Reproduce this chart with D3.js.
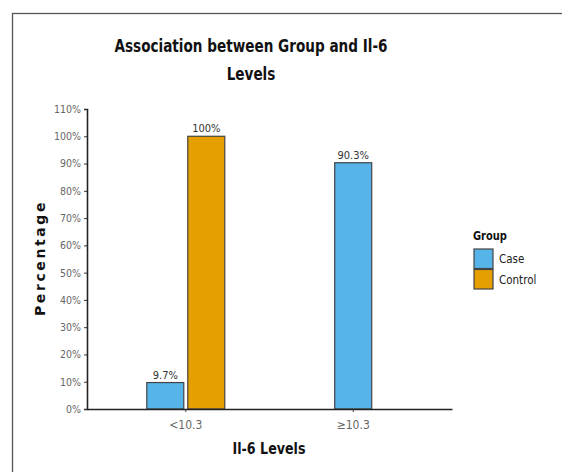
<!DOCTYPE html>
<html>
<head>
  <meta charset="utf-8">
  <script src="https://d3js.org/d3.v7.min.js"></script>
  <style>
    body { margin: 0; background: #fff; }
    text { font-family: "DejaVu Sans", sans-serif; font-stretch: condensed; }
  </style>
</head>
<body>
  <script>
    // Data
    const levels = ["<10.3", "\u226510.3"];
    const groups = ["Case", "Control"];
    const caseValues = [0.097, 0.903];
    const controlValues = [1.0, null];
    const valueLabels = [["9.7%", "100%"], ["90.3%", null]];
    const yTicks = [0, 0.1, 0.2, 0.3, 0.4, 0.5, 0.6, 0.7, 0.8, 0.9, 1.0, 1.1];
    const colors = ["#56B4E9", "#E69F00"];

    const width = 562, height = 472;
    const margin = { top: 109, right: 110, bottom: 63, left: 87 };

    const svg = d3.select("body").append("svg")
      .attr("width", width)
      .attr("height", height);

    // outer panel border
    svg.append("rect")
      .attr("x", 12.5).attr("y", 13.5)
      .attr("width", width).attr("height", height)
      .attr("fill", "none")
      .attr("stroke", "#555")
      .attr("stroke-width", 1.3);

    const x = d3.scaleBand()
      .domain(levels)
      .range([margin.left, width - margin.right])
      .paddingOuter(0.09)
      .paddingInner(0);

    const y = d3.scaleLinear()
      .domain([0, 1.1])
      .range([height - margin.bottom, margin.top]);

    // build rows: in a level with one group the bar is centered
    const barW = 37, gap = 4;
    const rows = [];
    levels.forEach((lv, i) => {
      const vals = [caseValues[i], controlValues[i]];
      const present = groups.map((g, j) => ({ g, j, v: vals[j] })).filter(d => d.v != null);
      const n = present.length;
      const cx = x(lv) + x.bandwidth() / 2;
      present.forEach((d, k) => {
        const offset = (k - (n - 1) / 2) * (barW + gap);
        rows.push({ level: lv, group: d.g, gi: d.j, value: d.v,
          label: valueLabels[i][d.j], x0: cx + offset - barW / 2 });
      });
    });

    svg.selectAll(".bar")
      .data(rows)
      .join("rect")
      .attr("class", "bar")
      .attr("x", d => d.x0)
      .attr("y", d => y(d.value))
      .attr("width", barW)
      .attr("height", d => y(0) - y(d.value))
      .attr("fill", d => colors[d.gi])
      .attr("stroke", "#444")
      .attr("stroke-width", 1.2);

    svg.selectAll(".vlabel")
      .data(rows)
      .join("text")
      .attr("class", "vlabel")
      .attr("x", d => d.x0 + barW / 2)
      .attr("y", d => y(d.value) - 4)
      .attr("text-anchor", "middle")
      .attr("font-size", 11)
      .attr("fill", "#333")
      .text(d => d.label);

    // y axis
    const yAxis = svg.append("g")
      .attr("transform", `translate(${margin.left},0)`)
      .call(d3.axisLeft(y).tickValues(yTicks).tickFormat(d3.format(".0%")).tickSize(3).tickPadding(3));
    yAxis.attr("font-family", null);
    yAxis.select(".domain").attr("stroke", "#222").attr("stroke-width", 1.6);
    yAxis.selectAll(".tick line").attr("stroke", "#333");
    yAxis.selectAll("text").attr("font-size", 10.5).attr("fill", "#666");

    // x axis
    const xAxis = svg.append("g")
      .attr("transform", `translate(0,${y(0)})`)
      .call(d3.axisBottom(x).tickSize(3).tickPadding(8).tickSizeOuter(0));
    xAxis.attr("font-family", null);
    xAxis.select(".domain").attr("stroke", "#222").attr("stroke-width", 1.6);
    xAxis.selectAll(".tick line").attr("stroke", "#333");
    xAxis.selectAll("text").attr("font-size", 12).attr("fill", "#666");

    // title (squeezed horizontally like the source)
    const title = svg.append("g")
      .attr("transform", "translate(251,0) scale(0.84,1)")
      .append("text")
      .attr("text-anchor", "middle")
      .attr("font-size", 18)
      .attr("font-weight", "bold")
      .attr("fill", "#111");
    title.append("tspan").attr("x", 0).attr("y", 52).text("Association between Group and Il-6");
    title.append("tspan").attr("x", 0).attr("y", 80).text("Levels");

    // axis titles
    svg.append("text")
      .attr("transform", "translate(269,454) scale(0.88,1)")
      .attr("text-anchor", "middle")
      .attr("font-size", 16)
      .attr("font-weight", "bold")
      .attr("fill", "#111")
      .text("Il-6 Levels");

    svg.append("text")
      .attr("transform", "translate(45,258) rotate(-90)")
      .attr("text-anchor", "middle")
      .attr("font-size", 14)
      .attr("font-weight", "bold")
      .attr("letter-spacing", 2.6)
      .attr("fill", "#111")
      .style("font-stretch", "normal")
      .text("Percentage");

    // legend
    const legend = svg.append("g").attr("transform", "translate(473,240)");
    legend.append("text")
      .attr("transform", "scale(0.88,1)")
      .attr("x", 0).attr("y", 0)
      .attr("font-size", 12.5)
      .attr("font-weight", "bold")
      .attr("fill", "#111")
      .text("Group");
    const item = legend.selectAll(".item")
      .data(groups)
      .join("g")
      .attr("class", "item")
      .attr("transform", (d, i) => `translate(0,${9 + i * 20.5})`);
    item.append("rect")
      .attr("x", 1).attr("y", 0)
      .attr("width", 19).attr("height", 19.5)
      .attr("fill", (d, i) => colors[i])
      .attr("stroke", "#444")
      .attr("stroke-width", 1.2);
    item.append("text")
      .attr("x", 26).attr("y", 14)
      .attr("font-size", 11.5)
      .attr("fill", "#222")
      .text(d => d);
  </script>
</body>
</html>
